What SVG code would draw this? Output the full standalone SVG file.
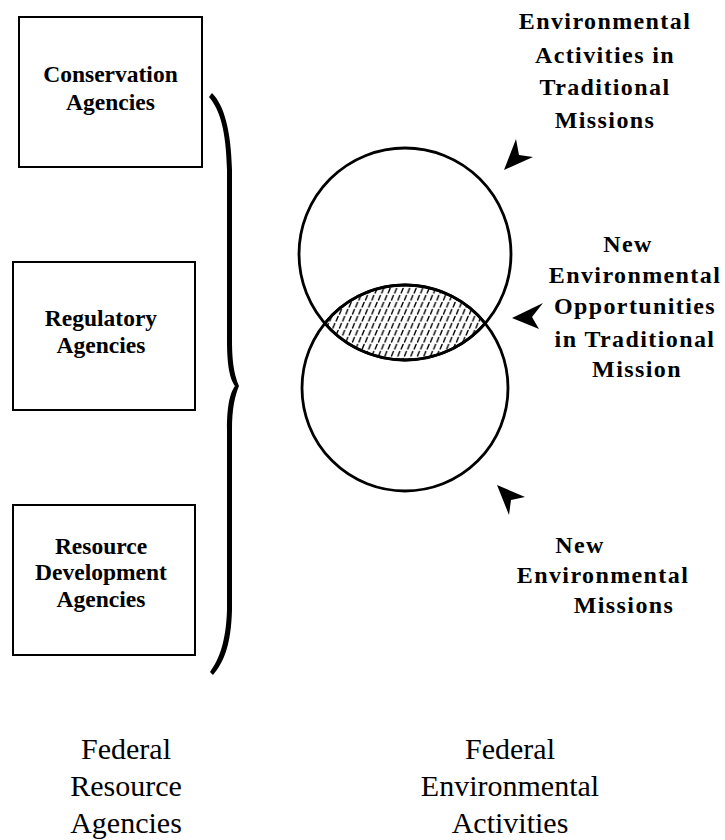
<svg xmlns="http://www.w3.org/2000/svg" width="725" height="840" viewBox="0 0 725 840">
  <style>
    .box { fill: #fff; stroke: #000; stroke-width: 2; }
    .circ { fill: none; stroke: #000; stroke-width: 2.8; }
    text { font-family: 'Liberation Serif', 'Tinos', 'DejaVu Serif', serif; fill: #000; text-anchor: middle; }
    .bt { font-size: 23.5px; font-weight: bold; }
    .rt { font-size: 24px; font-weight: bold; letter-spacing: 1.4px; }
    .lt { font-size: 30px; font-weight: normal; }
    .head { fill: #000; stroke: none; }
    .dash { stroke: #000; stroke-width: 1.4; stroke-linecap: round; }
  </style>
  <defs>
    <pattern id="hatch" patternUnits="userSpaceOnUse" width="6.5" height="14">
      <line class="dash" x1="1.5" y1="6" x2="3.3" y2="1.5"/>
      <line class="dash" x1="4.75" y1="13" x2="6.55" y2="8.5"/>
      <line class="dash" x1="-1.75" y1="13" x2="0.05" y2="8.5"/>
    </pattern>
  </defs>
  <rect width="725" height="840" fill="#fff"/>

  <g id="conservation">
    <rect class="box" x="19" y="17" width="183" height="150"/>
    <text class="bt" x="110.5" y="82">Conservation</text>
    <text class="bt" x="110.5" y="110">Agencies</text>
  </g>
  <g id="regulatory">
    <rect class="box" x="13" y="262" width="182" height="148"/>
    <text class="bt" x="101" y="326">Regulatory</text>
    <text class="bt" x="101" y="353">Agencies</text>
  </g>
  <g id="resource">
    <rect class="box" x="13" y="505" width="182" height="150"/>
    <text class="bt" x="101" y="554">Resource</text>
    <text class="bt" x="101" y="580">Development</text>
    <text class="bt" x="101" y="607">Agencies</text>
  </g>

  <g id="brace">
    <path d="M212,93 C224,105 231,130 232,170 L232,340 C232,365 235,376 239,386 C235,396 232,408 232,430 L232,610 C231,645 224,662 213,675 L210,672 C220,658 226,640 227,610 L227,430 C227,405 230,393 235,386 C230,379 227,367 227,340 L227,170 C226,130 220,110 209,97 Z" fill="#000"/>
  </g>

  <g id="traditional-circle">
    <circle class="circ" cx="405" cy="254" r="106"/>
  </g>
  <g id="new-missions-circle">
    <circle class="circ" cx="405" cy="388" r="103"/>
  </g>
  <g id="overlap">
    <path d="M324.8,323.3 A103,103 0 0 1 485.2,323.3 A106,106 0 0 1 324.8,323.3 Z" fill="url(#hatch)" stroke="#000" stroke-width="2.8"/>
  </g>

  <g id="label-traditional">
    <text class="rt" x="605" y="29">Environmental</text>
    <text class="rt" x="605" y="63">Activities in</text>
    <text class="rt" x="605" y="95">Traditional</text>
    <text class="rt" x="605" y="128">Missions</text>
  </g>
  <g id="label-opportunities">
    <text class="rt" x="628" y="252">New</text>
    <text class="rt" x="635" y="283">Environmental</text>
    <text class="rt" x="635" y="314">Opportunities</text>
    <text class="rt" x="635" y="347">in Traditional</text>
    <text class="rt" x="637" y="377">Mission</text>
  </g>
  <g id="label-new-missions">
    <text class="rt" x="580" y="553">New</text>
    <text class="rt" x="603" y="583">Environmental</text>
    <text class="rt" x="624" y="613">Missions</text>
  </g>

  <g id="label-federal-resource">
    <text class="lt" x="126" y="759">Federal</text>
    <text class="lt" x="126" y="796">Resource</text>
    <text class="lt" x="126" y="833">Agencies</text>
  </g>
  <g id="label-federal-environmental">
    <text class="lt" x="510" y="759">Federal</text>
    <text class="lt" x="510" y="796">Environmental</text>
    <text class="lt" x="510" y="833">Activities</text>
  </g>

  <g id="connectors">
    <polygon class="head" points="504,170 516,139 519,155 533,157"/>
    <polygon class="head" points="512,318 543,303 532,317 539,329"/>
    <polygon class="head" points="497,485 525,497 511,500 509,515"/>
  </g>
</svg>
